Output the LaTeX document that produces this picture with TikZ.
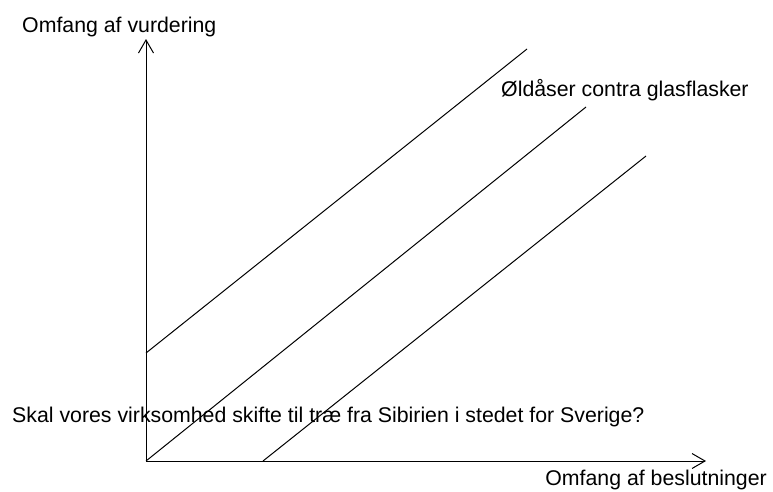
\documentclass[tikz,border=0pt]{standalone}
\usepackage{fontspec}
\setmainfont{Liberation Sans}
\usetikzlibrary{arrows.meta}
\begin{document}
\begin{tikzpicture}[x=1pt,y=-1pt,
  lbl/.style={inner sep=0pt,font=\fontsize{21.3}{25}\selectfont},
  ln/.style={line width=1pt,black},
  axis/.style={ln,-{Straight Barb[length=13pt,width=15pt,line width=1pt]}}]
\useasboundingbox (0,0) rectangle (773,491);
\coordinate (O) at (146,461);
\coordinate (ytop) at (146,39);
\coordinate (xend) at (706,461);
\draw[axis] (O) -- (ytop);
\draw[axis] (O) -- (xend);
\coordinate (a1) at (146,353);
\coordinate (b1) at (527,49);
\coordinate (a3) at (263,461);
\coordinate (b2) at (586,107);
\coordinate (b3) at (646,156);
\draw[ln] (a1) -- (b1);
\draw[ln] (O) -- (b2);
\draw[ln] (a3) -- (b3);
\node[lbl,anchor=base west] (ty) at (22,32) {Omfang af vurdering};
\node[lbl,anchor=base east] (tx) at (767,485) {Omfang af beslutninger};
\node[lbl,anchor=base west] (t1) at (501,96) {Øldåser contra glasflasker};
\node[lbl,anchor=base west] (t2) at (12,422) {Skal vores virksomhed skifte til træ fra Sibirien i stedet for Sverige?};
\end{tikzpicture}
\end{document}
